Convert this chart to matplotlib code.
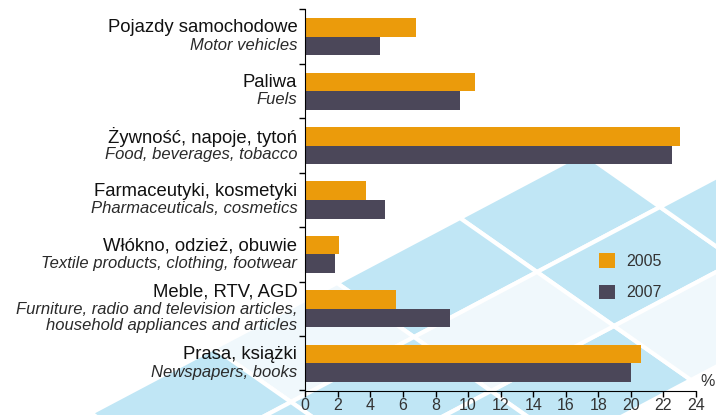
import matplotlib
matplotlib.use("Agg")
import matplotlib.pyplot as plt
from matplotlib.patches import Polygon

plt.rcParams["font.family"] = ["Liberation Sans", "DejaVu Sans"]

# ── Data ───────────────────────────────────────────────────────────────────
labels_pl = [
    "Pojazdy samochodowe",
    "Paliwa",
    "Żywność, napoje, tytoń",
    "Farmaceutyki, kosmetyki",
    "Włókno, odzież, obuwie",
    "Meble, RTV, AGD",
    "Prasa, książki",
]
labels_en = [
    "Motor vehicles",
    "Fuels",
    "Food, beverages, tobacco",
    "Pharmaceuticals, cosmetics",
    "Textile products, clothing, footwear",
    "Furniture, radio and television articles,\nhousehold appliances and articles",
    "Newspapers, books",
]
val_2005 = [6.8, 10.4, 23.0, 3.7, 2.1, 5.6, 20.6]
val_2007 = [4.6, 9.5, 22.5, 4.9, 1.8, 8.9, 20.0]
series = ["2005", "2007"]
xticks = list(range(0, 25, 2))

ORANGE = "#eb9b0b"
DARK = "#4b4759"
BLUE = "#c0e6f5"
PALE = "#f0f8fc"

W, H = 716, 415
fig = plt.figure(figsize=(W / 100, H / 100), dpi=100)

# ── Background diamonds (decoration, pixel coords) ─────────────────────────
bg = fig.add_axes([0, 0, 1, 1], zorder=0)
bg.set_xlim(0, W)
bg.set_ylim(H, 0)
bg.axis("off")
p0 = (460, 218)
e1 = (77, 54)
e2 = (123, -65)
cells = {(0, 0): BLUE, (0, -1): BLUE, (1, 0): BLUE, (2, -1): BLUE,
         (1, 1): BLUE, (1, -1): PALE, (0, -2): PALE, (1, -2): BLUE,
         (0, -3): BLUE, (2, -2): BLUE, (2, 0): PALE, (1, -3): BLUE}
for (i, j), col in cells.items():
    x0 = p0[0] + i * e1[0] + j * e2[0]
    y0 = p0[1] + i * e1[1] + j * e2[1]
    pts = [(x0, y0), (x0 + e1[0], y0 + e1[1]),
           (x0 + e1[0] + e2[0], y0 + e1[1] + e2[1]), (x0 + e2[0], y0 + e2[1])]
    bg.add_patch(Polygon(pts, closed=True, facecolor=col, edgecolor="white", lw=3))

# ── Bars ───────────────────────────────────────────────────────────────────
top_px, bot_px = 9.5, 390.5
ax = fig.add_axes([305.3 / W, 1 - bot_px / H, (696 - 305.3) / W, (bot_px - top_px) / H], zorder=1)
ax.patch.set_alpha(0)

y = list(range(len(labels_pl)))
bh = 0.34
ax.barh([v - bh / 2 for v in y], val_2005, height=bh, color=ORANGE, label=series[0])
ax.barh([v + bh / 2 for v in y], val_2007, height=bh, color=DARK, label=series[1])

ax.set_xlim(0, 24)
ax.set_ylim(len(y) - 0.5, -0.5)
ax.set_xticks(xticks)
ax.set_xticklabels([str(t) for t in xticks], fontsize=11.5, color="#333333")
ax.set_yticks([k - 0.5 for k in range(len(y) + 1)])
ax.set_yticklabels([])
ax.tick_params(axis="x", direction="out", length=4, width=1, pad=1.5)
ax.tick_params(axis="y", direction="out", length=4, width=1)
for s in ("top", "right"):
    ax.spines[s].set_visible(False)

ax.text(1.012, 0.003, "%", transform=ax.transAxes, fontsize=11.5, color="#333333",
        ha="left", va="bottom")

# ── Category labels ────────────────────────────────────────────────────────
px = 72 / 100  # points per pixel
for k, (pl, en) in enumerate(zip(labels_pl, labels_en)):
    en_lines = en.split("\n")
    offs = [0] + [17.5 + 16 * m for m in range(len(en_lines))]
    mid = offs[-1] / 2
    ax.annotate(pl, xy=(0, k), xytext=(-8 * px, (mid - offs[0]) * px), textcoords="offset points",
                ha="right", va="center", fontsize=13.3, color="#111111", annotation_clip=False)
    for m, line in enumerate(en_lines):
        ax.annotate(line, xy=(0, k), xytext=(-8 * px, (mid - offs[m + 1]) * px),
                    textcoords="offset points", ha="right", va="center", fontsize=12,
                    style="italic", color="#2a2a2a", annotation_clip=False)

ax.legend(loc="upper left", bbox_to_anchor=(0.715, 0.398), frameon=False, fontsize=11.5,
          handlelength=1.0, handleheight=1.0, handletextpad=0.7, labelspacing=1.0,
          labelcolor="#333333")

fig.savefig("out.png", dpi=100)
